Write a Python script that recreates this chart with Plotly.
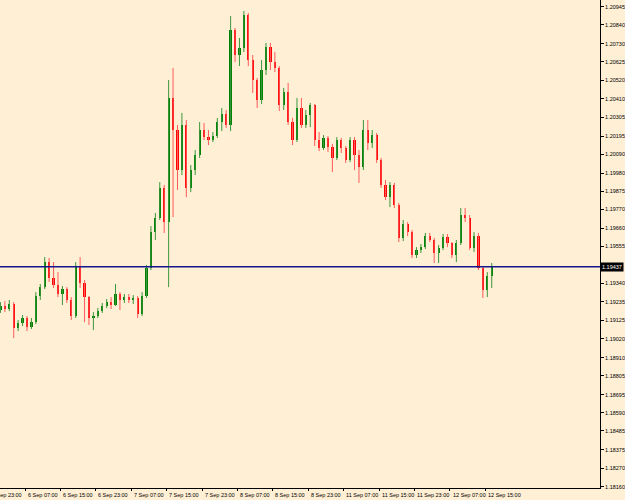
import plotly.graph_objects as go

# ---- data (EURUSD H1) ----
time_labels = ["5 Sep 23:00", "6 Sep 07:00", "6 Sep 15:00", "6 Sep 23:00", "7 Sep 07:00",
               "7 Sep 15:00", "7 Sep 23:00", "8 Sep 07:00", "8 Sep 15:00", "8 Sep 23:00",
               "11 Sep 07:00", "11 Sep 15:00", "11 Sep 23:00", "12 Sep 07:00", "12 Sep 15:00"]
label_bar_offset = -1  # first label is one 8-bar step before bar 0

price_ticks = [1.20945, 1.20840, 1.20730, 1.20625, 1.20520, 1.20410, 1.20305, 1.20195,
               1.20090, 1.19980, 1.19875, 1.19770, 1.19660, 1.19555, 1.19340, 1.19235,
               1.19125, 1.19020, 1.18910, 1.18805, 1.18695, 1.18590, 1.18485, 1.18375,
               1.18270, 1.18160]
price_tick_text = ["1.20945", "1.20840", "1.20730", "1.20625", "1.20520", "1.20410", "1.20305",
                   "1.20195", "1.20090", "1.19980", "1.19875", "1.19770", "1.19660", "1.19555",
                   "1.19340", "1.19235", "1.19125", "1.19020", "1.18910", "1.18805", "1.18695",
                   "1.18590", "1.18485", "1.18375", "1.18270", "1.18160"]
bid_price = 1.19437

first_bar = -6
opens = [1.19186, 1.19209, 1.19192, 1.19221, 1.19082, 1.19111, 1.19140, 1.19087, 1.19116, 1.19267,
         1.19319, 1.19464, 1.19372, 1.19331, 1.19279, 1.19308, 1.19244, 1.19151, 1.19441, 1.19343,
         1.19261, 1.19140, 1.19151, 1.19180, 1.19209, 1.19232, 1.19215, 1.19279, 1.19244, 1.19261,
         1.19244, 1.19256, 1.19163, 1.19267, 1.19430, 1.19638, 1.19720, 1.19894, 1.19696, 1.20416,
         1.20230, 1.19998, 1.20259, 1.19894, 1.19998, 1.20085, 1.20230, 1.20189, 1.20172, 1.20195,
         1.20276, 1.20323, 1.20259, 1.20810, 1.20665, 1.20706, 1.20897, 1.20636, 1.20520, 1.20404,
         1.20578, 1.20711, 1.20624, 1.20590, 1.20375, 1.20450, 1.20276, 1.20172, 1.20358, 1.20259,
         1.20317, 1.20375, 1.20172, 1.20126, 1.20184, 1.20131, 1.20068, 1.20172, 1.20126, 1.20056,
         1.20172, 1.20085, 1.20015, 1.20230, 1.20155, 1.20201, 1.20056, 1.19911, 1.19841, 1.19911,
         1.19795, 1.19604, 1.19685, 1.19638, 1.19505, 1.19534, 1.19551, 1.19615, 1.19592, 1.19517,
         1.19546, 1.19609, 1.19575, 1.19505, 1.19575, 1.19737, 1.19720, 1.19546, 1.19615, 1.19430,
         1.19302, 1.19383]
highs = [1.19232, 1.19238, 1.19244, 1.19232, 1.19128, 1.19157, 1.19151, 1.19140, 1.19290, 1.19337,
         1.19493, 1.19488, 1.19464, 1.19406, 1.19325, 1.19319, 1.19261, 1.19464, 1.19493, 1.19360,
         1.19267, 1.19174, 1.19198, 1.19227, 1.19250, 1.19261, 1.19337, 1.19290, 1.19279, 1.19279,
         1.19273, 1.19267, 1.19290, 1.19447, 1.19673, 1.19749, 1.19928, 1.19911, 1.20520, 1.20590,
         1.20259, 1.20329, 1.20288, 1.20027, 1.20114, 1.20276, 1.20271, 1.20230, 1.20218, 1.20300,
         1.20358, 1.20346, 1.20891, 1.20822, 1.20764, 1.20920, 1.20909, 1.20665, 1.20532, 1.20636,
         1.20735, 1.20735, 1.20682, 1.20601, 1.20474, 1.20503, 1.20300, 1.20416, 1.20416, 1.20346,
         1.20387, 1.20381, 1.20218, 1.20201, 1.20195, 1.20149, 1.20189, 1.20184, 1.20137, 1.20189,
         1.20189, 1.20114, 1.20288, 1.20288, 1.20230, 1.20213, 1.20068, 1.19940, 1.19928, 1.19923,
         1.19807, 1.19708, 1.19696, 1.19650, 1.19551, 1.19569, 1.19633, 1.19633, 1.19604, 1.19563,
         1.19627, 1.19627, 1.19580, 1.19592, 1.19778, 1.19778, 1.19737, 1.19638, 1.19633, 1.19441,
         1.19406, 1.19459]
lows = [1.19169, 1.19174, 1.19180, 1.19024, 1.19064, 1.19093, 1.19064, 1.19076, 1.19105, 1.19244,
        1.19308, 1.19348, 1.19314, 1.19261, 1.19215, 1.19227, 1.19128, 1.19140, 1.19314, 1.19116,
        1.19099, 1.19070, 1.19140, 1.19169, 1.19198, 1.19192, 1.19209, 1.19186, 1.19227, 1.19227,
        1.19221, 1.19140, 1.19151, 1.19256, 1.19418, 1.19592, 1.19708, 1.19633, 1.19319, 1.19725,
        1.19882, 1.19969, 1.19841, 1.19870, 1.19969, 1.20068, 1.20172, 1.20143, 1.20160, 1.20184,
        1.20224, 1.20242, 1.20224, 1.20624, 1.20601, 1.20682, 1.20601, 1.20445, 1.20358, 1.20381,
        1.20549, 1.20578, 1.20566, 1.20340, 1.20346, 1.20259, 1.20143, 1.20160, 1.20242, 1.20242,
        1.20247, 1.20137, 1.20108, 1.20114, 1.20102, 1.19986, 1.20056, 1.20097, 1.20039, 1.20044,
        1.19998, 1.19923, 1.19998, 1.20114, 1.20126, 1.20039, 1.19894, 1.19824, 1.19783, 1.19778,
        1.19580, 1.19586, 1.19615, 1.19488, 1.19488, 1.19517, 1.19540, 1.19580, 1.19459, 1.19459,
        1.19534, 1.19551, 1.19488, 1.19464, 1.19563, 1.19696, 1.19534, 1.19522, 1.19418, 1.19256,
        1.19261, 1.19314]
closes = [1.19209, 1.19192, 1.19221, 1.19082, 1.19111, 1.19140, 1.19087, 1.19116, 1.19267, 1.19319,
          1.19464, 1.19372, 1.19331, 1.19279, 1.19308, 1.19244, 1.19151, 1.19441, 1.19343, 1.19261,
          1.19140, 1.19151, 1.19180, 1.19209, 1.19232, 1.19215, 1.19279, 1.19244, 1.19261, 1.19244,
          1.19256, 1.19163, 1.19267, 1.19430, 1.19638, 1.19720, 1.19894, 1.19696, 1.20416, 1.20230,
          1.19998, 1.20259, 1.19894, 1.19998, 1.20085, 1.20230, 1.20189, 1.20172, 1.20195, 1.20276,
          1.20323, 1.20259, 1.20810, 1.20665, 1.20706, 1.20897, 1.20636, 1.20520, 1.20404, 1.20578,
          1.20711, 1.20624, 1.20590, 1.20375, 1.20450, 1.20276, 1.20172, 1.20358, 1.20259, 1.20317,
          1.20375, 1.20172, 1.20126, 1.20184, 1.20131, 1.20068, 1.20172, 1.20126, 1.20056, 1.20172,
          1.20085, 1.20015, 1.20230, 1.20155, 1.20201, 1.20056, 1.19911, 1.19841, 1.19911, 1.19795,
          1.19604, 1.19685, 1.19638, 1.19505, 1.19534, 1.19551, 1.19615, 1.19592, 1.19517, 1.19546,
          1.19609, 1.19575, 1.19505, 1.19575, 1.19737, 1.19720, 1.19546, 1.19615, 1.19430, 1.19302,
          1.19383, 1.19437]

# ---- build ----
BG = "#FFEFD5"
BULL, BEAR = "#008000", "#FF0000"
BULL_W, BEAR_W = "#3C963C", "#FF5A5A"
FONT = "Liberation Sans"
FS = 5.5

bars = list(range(first_bar, first_bar + len(closes)))
x_range = [-6.1, 129.46]

def wick_xy(sel):
    xs, ys = [], []
    for k in sel:
        xs += [bars[k], bars[k], None]
        ys += [lows[k], highs[k], None]
    return xs, ys

up = [k for k in range(len(closes)) if closes[k] >= opens[k]]
dn = [k for k in range(len(closes)) if closes[k] < opens[k]]

fig = go.Figure()
for sel, col in ((up, BULL_W), (dn, BEAR_W)):
    wx, wy = wick_xy(sel)
    fig.add_trace(go.Scatter(x=wx, y=wy, mode="lines", line=dict(color=col, width=1),
                             hoverinfo="skip", showlegend=False))
for sel, col in ((up, BULL), (dn, BEAR)):
    fig.add_trace(go.Bar(x=[bars[k] for k in sel],
                         base=[min(opens[k], closes[k]) for k in sel],
                         y=[max(abs(closes[k] - opens[k]), 0.00002) for k in sel],
                         width=0.5, marker=dict(color=col, line=dict(width=0)),
                         showlegend=False))

# bid line
fig.add_shape(type="line", xref="paper", x0=0, x1=1, yref="y", y0=bid_price, y1=bid_price,
              line=dict(color="#15168E", width=1.6))
fig.add_annotation(xref="paper", x=1.0, xanchor="left", yref="y", y=bid_price, yanchor="middle",
                   text=f"{bid_price:.5f}", showarrow=False, bgcolor="#000000", borderpad=1,
                   font=dict(family=FONT, size=FS, color="#FFFFFF"))

# time labels (left aligned after each tick, as in the terminal)
tick_pos = [8 * (k + label_bar_offset) - 0.45 for k in range(len(time_labels))]
span = x_range[1] - x_range[0]
for pos, lab in zip(tick_pos, time_labels):
    fig.add_annotation(xref="paper", x=(pos - x_range[0]) / span + 0.001, xanchor="left",
                       yref="paper", y=0, yanchor="top", yshift=-2, text=lab,
                       showarrow=False, font=dict(family=FONT, size=FS, color="#000000"))

fig.update_layout(
    width=625, height=500, margin=dict(l=0, r=25, t=0, b=12),
    paper_bgcolor=BG, plot_bgcolor=BG, barmode="overlay", bargap=0,
    showlegend=False,
    xaxis=dict(range=x_range, showgrid=False, zeroline=False, showline=True,
               linecolor="#000000", linewidth=1, ticks="outside", ticklen=2,
               tickcolor="#000000", tickvals=tick_pos, showticklabels=False,
               fixedrange=True),
    yaxis=dict(side="right", range=[1.18154, 1.20984], showgrid=False, zeroline=False,
               showline=True, linecolor="#000000", linewidth=1, ticks="outside",
               ticklen=3, tickcolor="#000000", tickvals=price_ticks, ticktext=price_tick_text,
               tickfont=dict(family=FONT, size=FS, color="#000000"), fixedrange=True),
)

fig.write_html("out.html")
